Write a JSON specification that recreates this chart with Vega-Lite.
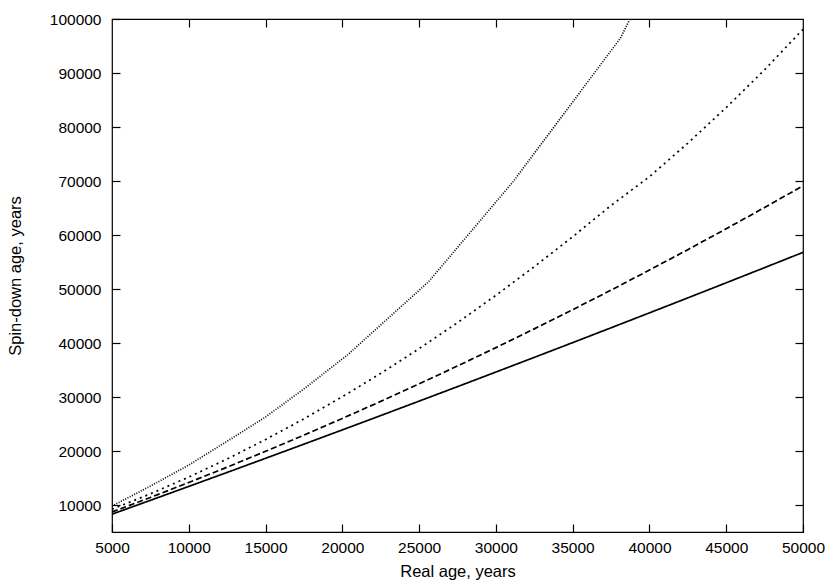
{
  "$schema": "https://vega.github.io/schema/vega-lite/v6.json",
  "autosize": "none",
  "width": 691,
  "height": 513,
  "padding": {"left": 112, "top": 19, "right": 27, "bottom": 49},
  "background": "white",
  "config": {
    "view": {"stroke": "black", "strokeWidth": 1.2},
    "font": "Liberation Sans",
    "axis": {
      "grid": false,
      "domain": false,
      "tickColor": "black",
      "tickSize": -8,
      "tickWidth": 1.2,
      "labelColor": "black",
      "labelFont": "Liberation Sans",
      "labelFontSize": 15.5,
      "titleFont": "Liberation Sans",
      "titleFontSize": 16.5,
      "titleFontWeight": "normal",
      "titleColor": "black"
    }
  },
  "data": {
    "values": [
      {"real": 5000, "spin": 8300, "s": "1"},
      {"real": 7500, "spin": 10863, "s": "1"},
      {"real": 10000, "spin": 13442, "s": "1"},
      {"real": 12500, "spin": 16035, "s": "1"},
      {"real": 15000, "spin": 18644, "s": "1"},
      {"real": 17500, "spin": 21268, "s": "1"},
      {"real": 20000, "spin": 23909, "s": "1"},
      {"real": 22500, "spin": 26563, "s": "1"},
      {"real": 25000, "spin": 29234, "s": "1"},
      {"real": 27500, "spin": 31919, "s": "1"},
      {"real": 30000, "spin": 34621, "s": "1"},
      {"real": 32500, "spin": 37338, "s": "1"},
      {"real": 35000, "spin": 40069, "s": "1"},
      {"real": 37500, "spin": 42816, "s": "1"},
      {"real": 40000, "spin": 45580, "s": "1"},
      {"real": 42500, "spin": 48357, "s": "1"},
      {"real": 45000, "spin": 51150, "s": "1"},
      {"real": 47500, "spin": 53959, "s": "1"},
      {"real": 50000, "spin": 56782, "s": "1"},

      {"real": 5000, "spin": 8700, "s": "2"},
      {"real": 7500, "spin": 11393, "s": "2"},
      {"real": 10000, "spin": 14164, "s": "2"},
      {"real": 12500, "spin": 17012, "s": "2"},
      {"real": 15000, "spin": 19940, "s": "2"},
      {"real": 17500, "spin": 22945, "s": "2"},
      {"real": 20000, "spin": 26028, "s": "2"},
      {"real": 22500, "spin": 29189, "s": "2"},
      {"real": 25000, "spin": 32428, "s": "2"},
      {"real": 27500, "spin": 35746, "s": "2"},
      {"real": 30000, "spin": 39142, "s": "2"},
      {"real": 32500, "spin": 42615, "s": "2"},
      {"real": 35000, "spin": 46166, "s": "2"},
      {"real": 37500, "spin": 49796, "s": "2"},
      {"real": 40000, "spin": 53504, "s": "2"},
      {"real": 42500, "spin": 57289, "s": "2"},
      {"real": 45000, "spin": 61154, "s": "2"},
      {"real": 47500, "spin": 65096, "s": "2"},
      {"real": 50000, "spin": 69117, "s": "2"},

      {"real": 5000, "spin": 9200, "s": "3"},
      {"real": 7500, "spin": 12064, "s": "3"},
      {"real": 10000, "spin": 15173, "s": "3"},
      {"real": 12500, "spin": 18525, "s": "3"},
      {"real": 15000, "spin": 22121, "s": "3"},
      {"real": 17500, "spin": 25961, "s": "3"},
      {"real": 20000, "spin": 30047, "s": "3"},
      {"real": 22500, "spin": 34375, "s": "3"},
      {"real": 25000, "spin": 38947, "s": "3"},
      {"real": 27500, "spin": 43764, "s": "3"},
      {"real": 30000, "spin": 48825, "s": "3"},
      {"real": 32500, "spin": 54129, "s": "3"},
      {"real": 35000, "spin": 59678, "s": "3"},
      {"real": 37500, "spin": 65470, "s": "3"},
      {"real": 40000, "spin": 70800, "s": "3"},
      {"real": 42500, "spin": 77000, "s": "3"},
      {"real": 45000, "spin": 83600, "s": "3"},
      {"real": 47500, "spin": 90600, "s": "3"},
      {"real": 50000, "spin": 98095, "s": "3"},

      {"real": 5000, "spin": 9800, "s": "4"},
      {"real": 7500, "spin": 13500, "s": "4"},
      {"real": 10000, "spin": 17400, "s": "4"},
      {"real": 12500, "spin": 21800, "s": "4"},
      {"real": 15000, "spin": 26300, "s": "4"},
      {"real": 17500, "spin": 31500, "s": "4"},
      {"real": 20300, "spin": 37700, "s": "4"},
      {"real": 25600, "spin": 51300, "s": "4"},
      {"real": 31100, "spin": 69800, "s": "4"},
      {"real": 38100, "spin": 96400, "s": "4"},
      {"real": 38733, "spin": 100000, "s": "4"}
    ]
  },
  "resolve": {"axis": {"x": "independent", "y": "independent"}},
  "layer": [
    {
      "mark": {"type": "line", "clip": true, "color": "black"},
      "encoding": {
        "x": {
          "field": "real", "type": "quantitative",
          "scale": {"domain": [5000, 50000], "nice": false, "zero": false},
          "axis": {"orient": "bottom", "values": [5000,10000,15000,20000,25000,30000,35000,40000,45000,50000], "format": "d", "labelPadding": 16, "title": "Real age, years", "titlePadding": 8, "labelFlush": false}
        },
        "y": {
          "field": "spin", "type": "quantitative",
          "scale": {"domain": [5000, 100000], "nice": false, "zero": false},
          "axis": {"orient": "left", "values": [10000,20000,30000,40000,50000,60000,70000,80000,90000,100000], "format": "d", "labelPadding": 19, "title": "Spin-down age, years", "titlePadding": 26, "labelFlush": false}
        },
        "detail": {"field": "s"},
        "strokeDash": {
          "field": "s", "type": "nominal",
          "scale": {"domain": ["1","2","3","4"], "range": [[1,0],[6,3],[2,4],[1,1.5]]},
          "legend": null
        },
        "strokeWidth": {
          "field": "s", "type": "nominal",
          "scale": {"domain": ["1","2","3","4"], "range": [1.7, 1.7, 2, 1]},
          "legend": null
        }
      }
    },
    {
      "mark": {"type": "point", "opacity": 0},
      "encoding": {
        "x": {
          "field": "real", "type": "quantitative",
          "axis": {"orient": "top", "values": [10000,15000,20000,25000,30000,35000,40000,45000], "labels": false, "title": null}
        },
        "y": {
          "field": "spin", "type": "quantitative",
          "axis": {"orient": "right", "values": [10000,20000,30000,40000,50000,60000,70000,80000,90000], "labels": false, "title": null}
        }
      }
    }
  ]
}
